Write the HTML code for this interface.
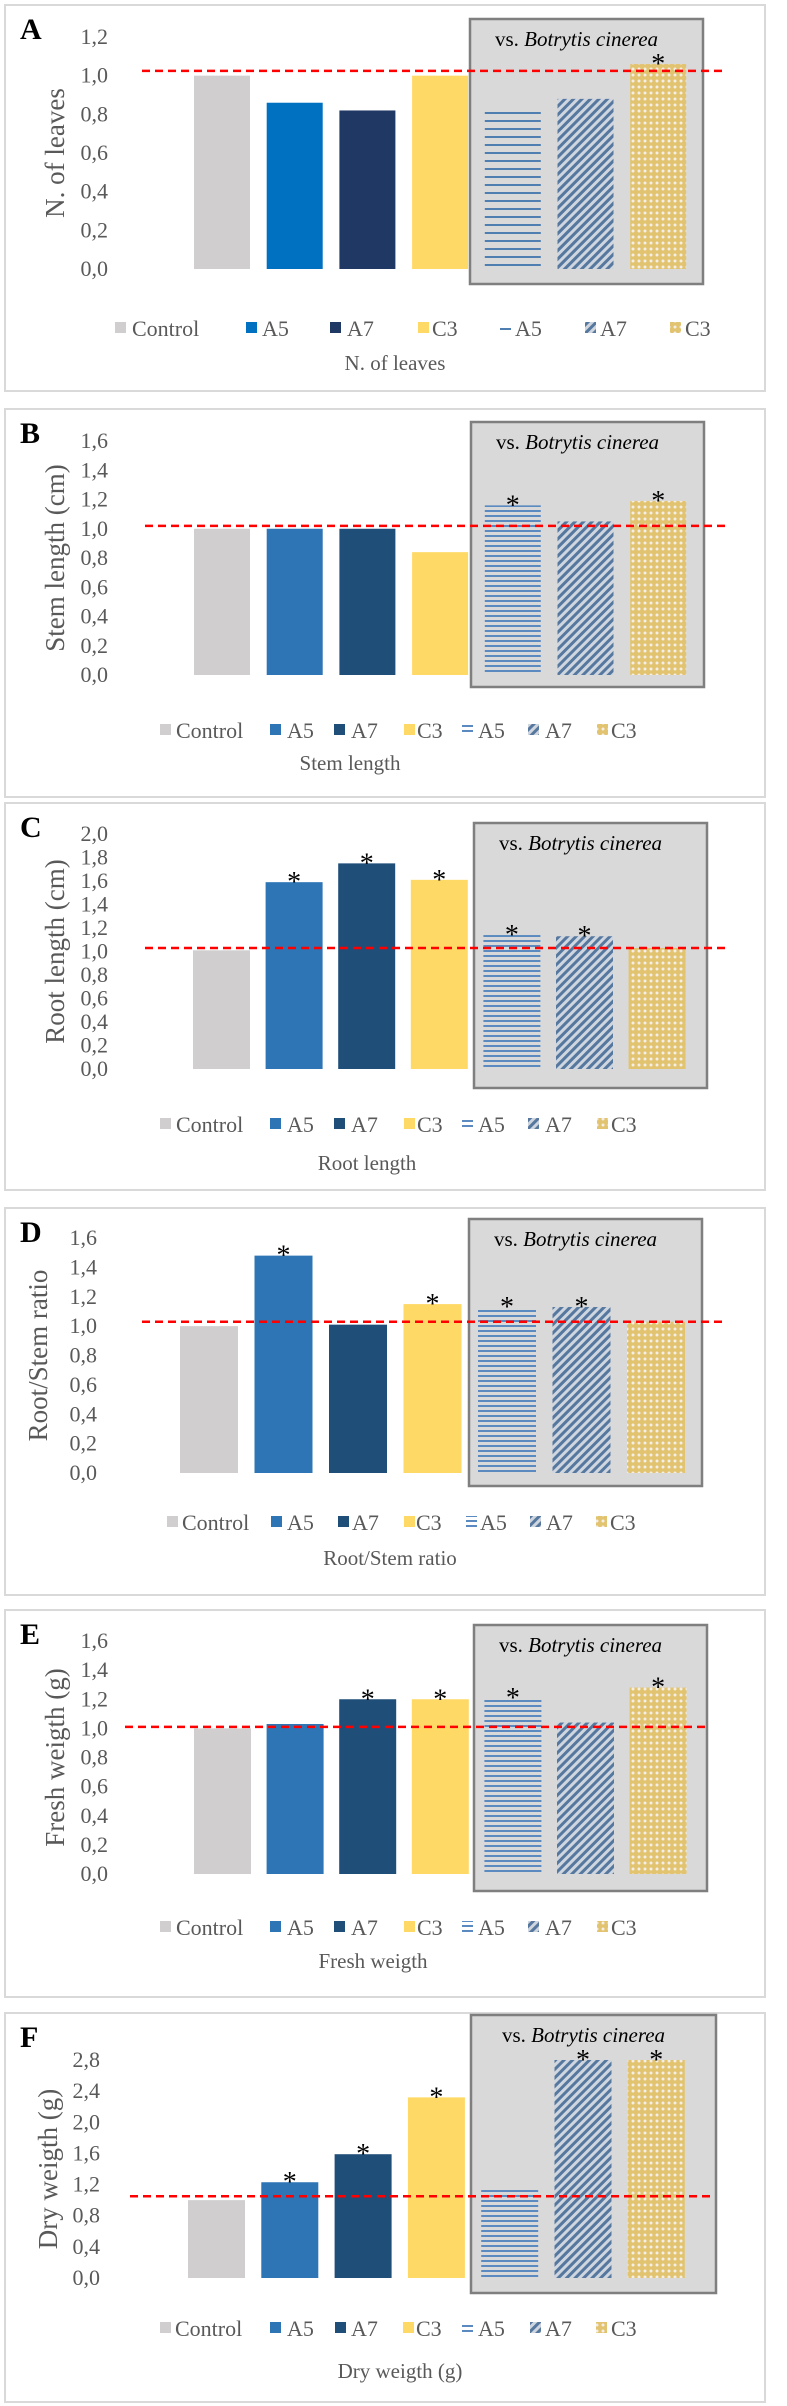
<!DOCTYPE html>
<html><head><meta charset="utf-8">
<style>
html,body{margin:0;padding:0;background:#fff;}
svg{display:block;}
text{font-family:"Liberation Serif",serif;}
</style></head>
<body>
<svg id="fig" width="787" height="2406" viewBox="0 0 787 2406" xmlns="http://www.w3.org/2000/svg">
<defs>
<pattern id="hLines" patternUnits="userSpaceOnUse" width="8" height="5"><rect x="0" y="0" width="8" height="2" fill="#5b8ac0"/></pattern>
<pattern id="hLinesA" patternUnits="userSpaceOnUse" width="8" height="8"><rect x="0" y="0" width="8" height="2" fill="#4f7eb0"/></pattern>
<pattern id="dLines" patternUnits="userSpaceOnUse" width="6" height="6" patternTransform="rotate(45)"><rect x="0" y="0" width="6" height="6" fill="#cfd6df"/><rect x="0" y="0" width="3" height="6" fill="#56789f"/></pattern>
<pattern id="dots" patternUnits="userSpaceOnUse" width="6" height="6"><rect width="6" height="6" fill="#e2c370"/><circle cx="3" cy="3" r="1.5" fill="#f3efe6"/></pattern>
</defs>
</svg>
<script>
const categories = ["Control","A5","A7","C3","A5","A7","C3"];
const valuesA = [1.0,0.86,0.82,1.0,0.82,0.88,1.06];
const valuesB = [1.0,1.0,1.0,0.84,1.16,1.05,1.19];
const valuesC = [1.01,1.59,1.75,1.61,1.14,1.13,1.03];
const valuesD = [1.0,1.48,1.01,1.15,1.13,1.13,1.03];
const valuesE = [1.0,1.03,1.2,1.2,1.21,1.04,1.28];
const valuesF = [1.0,1.23,1.59,2.32,1.13,2.8,2.8];
const starsA = [0,0,0,0,0,0,1];
const starsB = [0,0,0,0,1,0,1];
const starsC = [0,1,1,1,1,1,0];
const starsD = [0,1,0,1,1,1,0];
const starsE = [0,0,1,1,1,0,1];
const starsF = [0,1,1,1,0,1,1];
const refA = 1.025, refB = 1.02, refC = 1.03, refD = 1.03, refE = 1.01, refF = 1.05;
const ticksA = ["0,0","0,2","0,4","0,6","0,8","1,0","1,2"];
const ticksB = ["0,0","0,2","0,4","0,6","0,8","1,0","1,2","1,4","1,6"];
const ticksC = ["0,0","0,2","0,4","0,6","0,8","1,0","1,2","1,4","1,6","1,8","2,0"];
const ticksD = ticksB;
const ticksE = ticksB;
const ticksF = ["0,0","0,4","0,8","1,2","1,6","2,0","2,4","2,8"];

const panels = [
 {L:"A",vals:valuesA,stars:starsA,ref:refA,ticks:ticksA,max:1.2,ytitle:"N. of leaves",xtitle:"N. of leaves",
  frame:[5,5,760,386],box:[470,19,233,265],y0:269,yTop:37,x0:194,step:72.7,bw:56,tickX:108,ytX:55,refX:[142,722],
  leg:{y:328,sq:[115,246,330,418,500,585,670],tx:[132,262,347,432,515,600,685]},xtY:363,xtX:395,hp:"hLinesA",c:["#d0cece","#0070c0","#203864","#ffd966"]},
 {L:"B",vals:valuesB,stars:starsB,ref:refB,ticks:ticksB,max:1.6,ytitle:"Stem length (cm)",xtitle:"Stem length",
  frame:[5,409,760,388],box:[471,422,233,265],y0:675,yTop:441,x0:194,step:72.7,bw:56,tickX:108,ytX:55,refX:[145,725],
  leg:{y:730,sq:[160,270,334,404,462,528,597],tx:[176,287,351,417,478,545,611]},xtY:763,xtX:350,hp:"hLines",c:["#d0cece","#2e75b6","#1f4e79","#ffd966"]},
 {L:"C",vals:valuesC,stars:starsC,ref:refC,ticks:ticksC,max:2.0,ytitle:"Root length (cm)",xtitle:"Root length",
  frame:[5,803,760,387],box:[474,823,233,265],y0:1069,yTop:834,x0:193,step:72.6,bw:57,tickX:108,ytX:55,refX:[145,725],
  leg:{y:1124,sq:[160,270,334,404,462,528,597],tx:[176,287,351,417,478,545,611]},xtY:1163,xtX:367,hp:"hLines",c:["#d0cece","#2e75b6","#1f4e79","#ffd966"]},
 {L:"D",vals:valuesD,stars:starsD,ref:refD,ticks:ticksD,max:1.6,ytitle:"Root/Stem ratio",xtitle:"Root/Stem ratio",
  frame:[5,1208,760,387],box:[469,1219,233,267],y0:1473,yTop:1238,x0:180,step:74.5,bw:58,tickX:97,ytX:38,refX:[142,722],
  leg:{y:1522,sq:[167,271,338,404,466,530,596],tx:[182,287,352,416,480,546,610]},xtY:1558,xtX:390,hp:"hLines",c:["#d0cece","#2e75b6","#1f4e79","#ffd966"]},
 {L:"E",vals:valuesE,stars:starsE,ref:refE,ticks:ticksE,max:1.6,ytitle:"Fresh weigth (g)",xtitle:"Fresh weigth",
  frame:[5,1610,760,387],box:[474,1625,233,266],y0:1874,yTop:1641,x0:194,step:72.6,bw:57,tickX:108,ytX:55,refX:[125,705],
  leg:{y:1927,sq:[160,270,334,404,462,528,597],tx:[176,287,351,417,478,545,611]},xtY:1961,xtX:373,hp:"hLines",c:["#d0cece","#2e75b6","#1f4e79","#ffd966"]},
 {L:"F",vals:valuesF,stars:starsF,ref:refF,ticks:ticksF,max:2.8,ytitle:"Dry weigth (g)",xtitle:"Dry weigth (g)",
  frame:[5,2013,760,389],box:[471,2015,245,278],y0:2278,yTop:2060,x0:188,step:73.3,bw:57,tickX:100,ytX:48,refX:[130,710],
  leg:{y:2328,sq:[160,270,335,403,462,530,596],tx:[175,287,351,416,478,545,611]},xtY:2371,xtX:400,hp:"hLines",c:["#d0cece","#2e75b6","#1f4e79","#ffd966"]}
];
const NS="http://www.w3.org/2000/svg";
const svg=document.getElementById("fig");
function mk(tag,attrs,parent,txt){const e=document.createElementNS(NS,tag);for(const k in attrs)e.setAttribute(k,attrs[k]);if(txt!==undefined)e.textContent=txt;parent.appendChild(e);return e;}
panels.forEach((p,pi)=>{
  const g=mk("g",{},svg);
  
  
  const yS=v=>p.y0-(v/p.max)*(p.y0-p.yTop);
  const xS=i=>p.x0+i*p.step;
  const fr=mk("rect",{x:p.frame[0],y:p.frame[1],width:p.frame[2],height:p.frame[3],fill:"#fff",stroke:"#d9d9d9","stroke-width":2},g);
  
  
  const bx=mk("rect",{x:p.box[0],y:p.box[1],width:p.box[2],height:p.box[3],fill:"#d9d9d9",stroke:"#7f7f7f","stroke-width":2.5},g);
  
  
  const bt=mk("text",{x:p.box[0]+p.box[2]/2-10,y:p.box[1]+27,"text-anchor":"middle","font-size":21,fill:"#000"},g);
  
  
  mk("tspan",{},bt,"vs. ");mk("tspan",{"font-style":"italic"},bt,"Botrytis cinerea");
  const pl=mk("text",{x:20,y:p.frame[1]+34,"font-family":"Liberation Sans, sans-serif","font-weight":"bold","font-size":30,fill:"#000"},g,p.L);
  
  
  p.ticks.forEach((t,i)=>{
    const v=i*p.max/(p.ticks.length-1);
    const tt=mk("text",{x:p.tickX,y:yS(v)+7,"text-anchor":"end","font-size":22,fill:"#595959"},g,t);
    
    
  });
  const cy=(p.y0+p.yTop)/2;
  const yt=mk("text",{x:p.ytX,y:cy,"text-anchor":"middle","font-size":27,fill:"#595959",transform:`rotate(-90 ${p.ytX} ${cy})`,dy:9},g,p.ytitle);
  
  
  const fills=[p.c[0],p.c[1],p.c[2],p.c[3],`url(#${p.hp})`,"url(#dLines)","url(#dots)"];
  p.vals.forEach((v,i)=>{
    const y=yS(v);
    const b=mk("rect",{x:xS(i),y:y,width:p.bw,height:p.y0-y,fill:fills[i]},g);
    
    
    if(p.stars[i]){
      const s=mk("text",{x:xS(i)+p.bw/2,y:y+9,"text-anchor":"middle","font-size":28,fill:"#000","font-family":"Liberation Sans, sans-serif"},g,"*");
      
      
    }
  });
  const rl=mk("line",{x1:p.refX[0],x2:p.refX[1],y1:yS(p.ref),y2:yS(p.ref),stroke:"#ff0000","stroke-width":2.5,"stroke-dasharray":"8 5"},g);
  
  
  const lfills=[p.c[0],p.c[1],p.c[2],p.c[3],`url(#${p.hp})`,"url(#dLines)","url(#dots)"];
  categories.forEach((c,i)=>{
    const sq=mk("rect",{x:p.leg.sq[i],y:p.leg.y-6,width:11,height:11,fill:lfills[i]},g);
    
    
    const lt=mk("text",{x:p.leg.tx[i],y:p.leg.y+8,"font-size":22,fill:"#595959"},g,c);
    
    
  });
  const xt=mk("text",{x:p.xtX,y:p.xtY+7,"text-anchor":"middle","font-size":21,fill:"#595959"},g,p.xtitle);
  
  
});
</script>
</body></html>
